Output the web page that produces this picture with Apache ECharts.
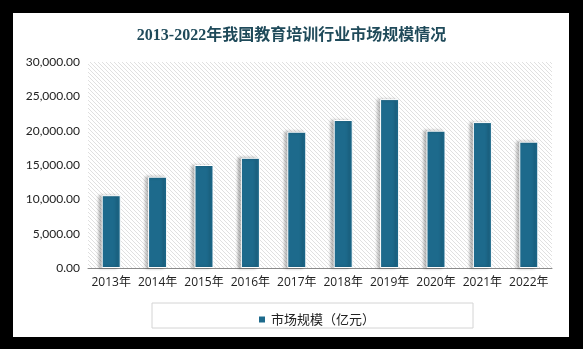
<!DOCTYPE html>
<html><head><meta charset="utf-8">
<script src="https://cdn.jsdelivr.net/npm/echarts@6/dist/echarts.min.js"></script>
<style>html,body{margin:0;padding:0;background:#000;}#c{width:583px;height:349px;}</style>
</head><body><div id="c"></div>
<script>
const categories = ['2013年','2014年','2015年','2016年','2017年','2018年','2019年','2020年','2021年','2022年'];
const values = [10600, 13300, 15000, 16050, 19850, 21550, 24600, 20000, 21250, 18400];
const seriesName = '市场规模（亿元）';
const titleText = '2013-2022年我国教育培训行业市场规模情况';

const pc = document.createElement('canvas');
pc.width = 4; pc.height = 4;
const pctx = pc.getContext('2d');
pctx.fillStyle = '#ffffff'; pctx.fillRect(0,0,4,4);
pctx.fillStyle = '#e0e0e0';
for (let i = 0; i < 4; i++) pctx.fillRect(i, i, 1, 1);

const chart = echarts.init(document.getElementById('c'), null, {renderer:'canvas'});
chart.setOption({
  backgroundColor: '#000',
  animation: false,
  graphic: [
    {type:'rect', z:-10, shape:{x:13,y:13,width:556,height:324}, style:{fill:'#fff'}},
    {type:'rect', z:-5, shape:{x:152,y:303,width:321,height:25}, style:{fill:'#fff', stroke:'#d4d4d4', lineWidth:1}}
  ],
  title: {
    text: titleText, left: 'center', top: 23,
    textStyle: {fontFamily: '"Liberation Serif","Noto Sans CJK SC"', fontSize: 16, fontWeight: 'bold', color: '#1f4a5a'}
  },
  grid: {left: 88, right: 31, top: 62, bottom: 81, show: true, borderWidth: 0,
    backgroundColor: {image: pc, repeat: 'repeat'}},
  legend: {
    data: [seriesName], left: 252, top: 308, itemWidth: 8, itemHeight: 8, itemGap: 6,
    icon: 'rect',
    textStyle: {fontFamily: '"Noto Sans CJK SC"', fontSize: 13, color: '#222'}
  },
  xAxis: {
    type: 'category', data: categories,
    axisLine: {show: true, lineStyle: {color: '#8a8a8a'}},
    axisTick: {show: false},
    axisLabel: {color: '#222', fontSize: 12, margin: 9, fontFamily: '"Open Sans","Noto Sans CJK SC"', interval: 0}
  },
  yAxis: {
    type: 'value', min: 0, max: 30000, interval: 5000,
    axisLine: {show: false}, axisTick: {show: false}, splitLine: {show: false},
    axisLabel: {color: '#222', fontSize: 12, margin: 8, fontFamily: 'Lato',
      formatter: v => v.toLocaleString('en-US', {minimumFractionDigits: 2, maximumFractionDigits: 2})}
  },
  series: [{
    name: seriesName, type: 'bar', data: values, barWidth: '41%',
    itemStyle: {color: '#1d6a8c', borderColor: '#ffffff', borderWidth: 1,
      shadowColor: 'rgba(0,0,0,0.3)', shadowBlur: 3, shadowOffsetX: -3, shadowOffsetY: 0}
  }]
});
</script></body></html>
